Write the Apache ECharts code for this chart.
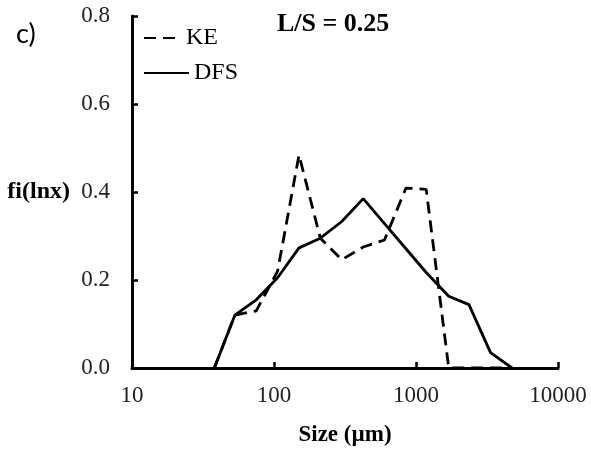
<!DOCTYPE html>
<html>
<head>
<meta charset="utf-8">
<script src="https://cdn.jsdelivr.net/npm/echarts@6/dist/echarts.min.js"></script>
<style>
  html, body { margin: 0; padding: 0; background: #fff; }
  #chart { width: 591px; height: 456px; }
</style>
</head>
<body>
<div id="chart"></div>
<script>
// Particle size classes (µm) and the two fi(lnx) distributions
const sizes = [38, 53, 75, 106, 150, 212, 300, 425, 600, 850, 1180, 1700, 2360, 3350, 4750];
const keValues = [0, 0.12, 0.13, 0.22, 0.484, 0.295, 0.246, 0.275, 0.291, 0.409, 0.406, 0, 0, 0, 0];
const dfsValues = [0, 0.12, 0.155, 0.205, 0.273, 0.295, 0.333, 0.385, 0.328, 0.271, 0.217, 0.163, 0.144, 0.035, 0];
const xTicks = [10, 100, 1000, 10000];
const yTicks = [0, 0.2, 0.4, 0.6, 0.8];

const serif = '"Liberation Serif", "DejaVu Serif", serif';
const toPairs = vals => sizes.map((s, i) => [s, vals[i]]);

const chart = echarts.init(document.getElementById('chart'));
chart.setOption({
  animation: false,
  backgroundColor: '#fff',
  title: {
    text: 'L/S = 0.25',
    left: 272,
    top: 6,
    textStyle: { fontFamily: serif, fontWeight: 'bold', fontSize: 26, color: '#000' }
  },
  graphic: [{
    type: 'text',
    left: 16,
    top: 21,
    style: { text: 'c)', font: '27px Lato, "Open Sans", sans-serif', fill: '#000' }
  }],
  legend: [{
    data: ['KE'],
    left: 138,
    top: 21,
    selectedMode: false,
    itemWidth: 37,
    itemHeight: 14,
    itemStyle: { opacity: 0 },
    textStyle: { fontFamily: serif, fontSize: 24, color: '#000' }
  }, {
    data: ['DFS'],
    left: 138,
    top: 56,
    selectedMode: false,
    itemWidth: 45,
    itemHeight: 14,
    itemStyle: { opacity: 0 },
    textStyle: { fontFamily: serif, fontSize: 24, color: '#000' }
  }],
  grid: { left: 132, right: 33, top: 16, bottom: 88 },
  xAxis: {
    type: 'log',
    logBase: 10,
    min: xTicks[0],
    max: xTicks[xTicks.length - 1],
    name: 'Size (µm)',
    nameLocation: 'middle',
    nameGap: 56,
    nameTextStyle: { fontFamily: serif, fontWeight: 'bold', fontSize: 23, color: '#000' },
    axisLine: { lineStyle: { color: '#000', width: 3 } },
    axisTick: { inside: true, length: 6, lineStyle: { color: '#000', width: 2.5 } },
    minorTick: { show: false },
    splitLine: { show: false },
    axisLabel: {
      margin: 16,
      fontFamily: serif, fontSize: 23, color: '#222',
      formatter: v => String(Math.round(v))
    }
  },
  yAxis: {
    type: 'value',
    min: yTicks[0],
    max: yTicks[yTicks.length - 1],
    interval: 0.2,
    name: 'fi(lnx)',
    nameLocation: 'middle',
    nameRotate: 0,
    nameGap: 62,
    nameTextStyle: { fontFamily: serif, fontWeight: 'bold', fontSize: 24, color: '#000' },
    axisLine: { show: true, lineStyle: { color: '#000', width: 3 } },
    axisTick: { show: true, inside: true, length: 6, lineStyle: { color: '#000', width: 2.5 } },
    splitLine: { show: false },
    axisLabel: {
      margin: 22,
      fontFamily: serif, fontSize: 23, color: '#222',
      formatter: v => v.toFixed(1)
    }
  },
  series: [{
    name: 'KE',
    type: 'line',
    data: toPairs(keValues),
    symbol: 'none',
    lineStyle: { color: '#000', width: 2.8, type: [12, 7] },
    itemStyle: { color: '#000' }
  }, {
    name: 'DFS',
    type: 'line',
    data: toPairs(dfsValues),
    symbol: 'none',
    lineStyle: { color: '#000', width: 2.8 },
    itemStyle: { color: '#000' }
  }]
});
</script>
</body>
</html>
